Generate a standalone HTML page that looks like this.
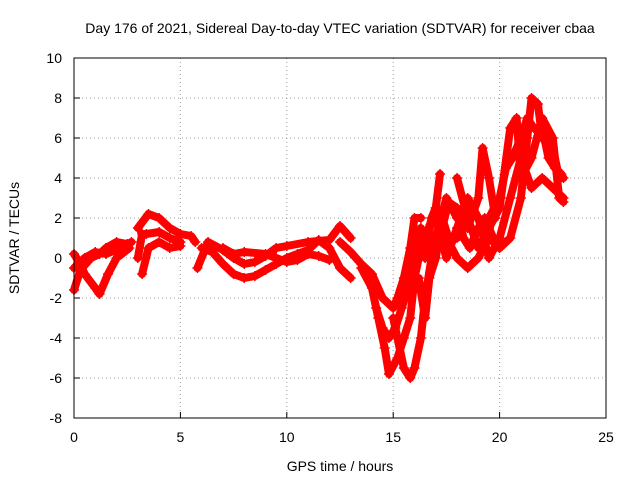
<!DOCTYPE html>
<html><head><meta charset="utf-8"><style>
body{margin:0;background:#fff}
svg{display:block;font-family:"Liberation Sans",sans-serif}
</style></head><body>
<svg id="chart" width="640" height="480">
<rect width="640" height="480" fill="#fff"/>
<text x="340" y="33" font-size="14" text-anchor="middle">Day 176 of 2021, Sidereal Day-to-day VTEC variation (SDTVAR) for receiver cbaa</text>
<text x="340" y="471" font-size="14" text-anchor="middle">GPS time / hours</text>
<text x="19" y="238" font-size="14" text-anchor="middle" transform="rotate(-90 19 238)">SDTVAR / TECUs</text>
<g id="grid"></g>
<g id="ticks"></g>
<g id="series"></g>
<rect x="74" y="58" width="532" height="360" fill="none" stroke="#000" stroke-width="1"/>
</svg>
<script>
const xTicks=[0,5,10,15,20,25];
const yTicks=[-8,-6,-4,-2,0,2,4,6,8,10];
const t1=[[0,-1.6],[0.3,-0.6],[0.8,0],[1.2,0.2],[1.5,0.5],[2,0.8],[2.5,0.7]];
const t2=[[0,0.2],[0.3,-0.3],[0.5,-0.8],[1,-1.5],[1.2,-1.8],[1.6,-0.8],[2,0],[2.6,0.5]];
const t3=[[0,-0.5],[0.5,0],[1,0.3],[1.5,0.2],[2.2,0.5],[2.7,0.8]];
const t4=[[3,1.5],[3.5,2.2],[4,2],[4.5,1.5],[5,1.2],[5.5,1.1],[5.7,0.8]];
const t5=[[3,0],[3.2,1.2],[3.4,1.2],[4,1.3],[4.5,1],[5,0.8]];
const t6=[[3.2,-0.8],[3.5,0.5],[4,0.8],[4.5,0.5],[5,0.6]];
const t7=[[5.8,-0.5],[6.3,0.8],[7,0.4],[7.5,0],[8,-0.3],[8.5,-0.2],[9,0.1],[9.5,0.5],[10,0.6],[11,0.8],[12,0.9],[12.5,1.6],[13,1]];
const t8=[[6,0.5],[6.5,0.3],[7,-0.3],[7.5,-0.8],[8,-1],[8.5,-0.9],[9,-0.6],[9.5,-0.3],[10,0],[10.5,0.2],[11,0.4],[11.5,0.9],[12,0.5],[12.5,-0.5],[13,-1]];
const t9=[[7,0.5],[7.5,0.2],[8,0.3],[9,0.2],[9.5,0],[10,-0.2],[10.5,-0.1],[11,0.2],[11.5,0.1],[12,-0.1]];
const t10=[[12.5,0.8],[13,0.3],[13.5,-0.3],[14,-0.8],[14.5,-2],[15,-2.5],[15.2,-2],[15.5,-1],[15.8,0.5],[16,2],[16.3,2]];
const t11=[[13.5,-0.5],[14,-1.5],[14.3,-3],[14.6,-4.5],[14.8,-5.8],[15.2,-5],[15.5,-4],[15.8,-3],[16,-1],[16.3,0.5],[16.5,1],[17,2.5],[17.2,4.2]];
const t12=[[15,-3],[15.5,-5.5],[15.8,-6],[16,-5.5],[16.3,-4],[16.5,-2],[16.8,0],[17,1],[17.5,3],[18,2],[18.5,1.5],[19,3],[19.2,5.5],[19.5,4],[19.8,2]];
const t13=[[17.5,1],[18,0],[18.5,-0.5],[19,0],[19.5,1],[20,0.5],[20.5,1],[21,3],[21.3,6],[21.5,8],[21.8,7.7],[22,6],[22.5,5.5],[22.8,4],[23,4]];
const t14=[[18,4],[18.5,2],[19,0.5],[19.5,1.5],[20,2.5],[20.5,6.5],[20.8,7],[21,4],[21.5,5],[22,7],[22.5,6],[22.8,3],[23,2.8]];
const t15=[[17,2],[17.5,0],[18,1.5],[18.5,3],[19,2],[19.5,0],[20,1],[20.5,3],[21,5],[21.5,3.5],[22,4],[22.5,3.5],[23,3]];
const t16=[[16.5,0],[16.8,2],[17,2.5],[17.3,1.5],[17.6,2.8],[18,2.5],[18.3,1],[18.6,0.5],[19,1.5],[19.3,2],[19.7,1],[20,0.5]];
const t17=[[19.5,2],[20,3],[20.3,4.5],[20.6,5],[21,6],[21.3,7],[21.6,6.5],[22,6.5],[22.3,5],[22.6,4.5],[22.9,4.2]];
const t18=[[16.2,-1],[16.5,-3],[16.7,-1],[17,0],[17.3,2],[17.6,1],[18,1]];
const t19=[[14.2,-2.5],[14.5,-3.5],[14.8,-4],[15.1,-3.5],[15.4,-2.5],[15.7,-1.5],[16,0],[16.3,1.5]];
const tracks=[t1,t2,t3,t4,t5,t6,t7,t8,t9,t10,t11,t12,t13,t14,t15,t16,t17,t18,t19];
const NS='http://www.w3.org/2000/svg';
const X=v=>74+(v/25)*532;
const Y=v=>418-((v+8)/18)*360;
function mk(tag,attrs,parent){const e=document.createElementNS(NS,tag);for(const k in attrs)e.setAttribute(k,attrs[k]);parent.appendChild(e);return e;}
const grid=document.getElementById('grid'),ticks=document.getElementById('ticks'),ser=document.getElementById('series');
xTicks.forEach(t=>{
  if(t>0&&t<25){const g=mk('line',{x1:X(t),x2:X(t),y1:58,y2:418,stroke:'#a0a0a0','stroke-dasharray':'1,3'},grid);
  
  }
  const l=mk('line',{x1:X(t),x2:X(t),y1:418,y2:412,stroke:'#000'},ticks);
  
  
  const tx=mk('text',{x:X(t),y:442,'font-size':14,'text-anchor':'middle'},ticks);tx.textContent=t;
  
  
});
yTicks.forEach(t=>{
  if(t>-8&&t<10){const g=mk('line',{x1:74,x2:606,y1:Y(t),y2:Y(t),stroke:'#a0a0a0','stroke-dasharray':'1,3'},grid);
  
  }
  const l=mk('line',{x1:74,x2:80,y1:Y(t),y2:Y(t),stroke:'#000'},ticks);
  
  
  const tx=mk('text',{x:62,y:Y(t)+5,'font-size':14,'text-anchor':'end'},ticks);tx.textContent=t;
  
  
});
tracks.forEach(tr=>{
  const p=mk('polyline',{points:tr.map(d=>X(d[0])+','+Y(d[1])).join(' '),fill:'none',stroke:'#ff0000','stroke-width':8,'stroke-linejoin':'round','stroke-linecap':'round'},ser);
  
  
  tr.forEach(d=>{
    const m=mk('path',{d:`M${X(d[0])-5},${Y(d[1])}h10M${X(d[0])},${Y(d[1])-5}v10`,stroke:'#ff0000','stroke-width':1.5},ser);
    
    
  });
});
</script>
</body></html>
